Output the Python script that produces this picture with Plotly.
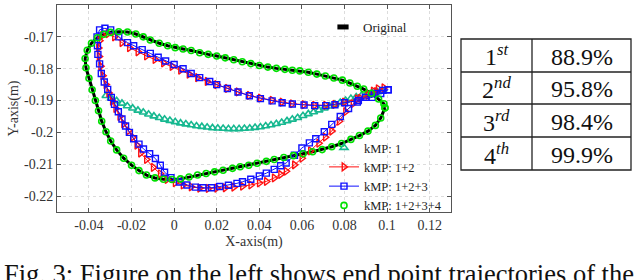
import plotly.graph_objects as go

# ---------------- data ----------------
orig_x = [0.099, 0.097, 0.0945, 0.091, 0.087, 0.083, 0.0786, 0.074, 0.0695, 0.065, 0.0605, 0.056, 0.0515, 0.047,
          0.0433, 0.039, 0.035, 0.031, 0.0274, 0.023, 0.019, 0.015, 0.011, 0.007, 0.003, -0.001, -0.005, -0.009,
          -0.013, -0.0165, -0.020, -0.0237, -0.027, -0.0298, -0.032, -0.034, -0.0355, -0.037, -0.0385, -0.040,
          -0.0414, -0.0418, -0.0408, -0.0388, -0.036, -0.033, -0.0298, -0.026, -0.0219, -0.018, -0.0145, -0.0112,
          -0.007, -0.003, 0.0005, 0.0042, 0.008, 0.012, 0.016, 0.020, 0.024, 0.028, 0.032, 0.036, 0.040, 0.044,
          0.048, 0.052, 0.0555, 0.059, 0.063, 0.067, 0.071, 0.075, 0.079, 0.0825, 0.086, 0.089, 0.0926, 0.096,
          0.0985, 0.099]
orig_y = [-0.1923, -0.1955, -0.1978, -0.1996, -0.2010, -0.2022, -0.2035, -0.2045, -0.2054, -0.2061, -0.2067,
          -0.2073, -0.2079, -0.2085, -0.2091, -0.2097, -0.2103, -0.2108, -0.2113, -0.2119, -0.2124, -0.2129,
          -0.2134, -0.2140, -0.2146, -0.2148, -0.2147, -0.2143, -0.2134, -0.2120, -0.2103, -0.2081, -0.2055,
          -0.2027, -0.1998, -0.1965, -0.1932, -0.1900, -0.1866, -0.1830, -0.1797, -0.1768, -0.1742, -0.1720,
          -0.1703, -0.1692, -0.1686, -0.1684, -0.1685, -0.1691, -0.1700, -0.1710, -0.1720, -0.1728, -0.1734,
          -0.1738, -0.1743, -0.1750, -0.1755, -0.1760, -0.1766, -0.1772, -0.1778, -0.1784, -0.1790, -0.1795,
          -0.1799, -0.1802, -0.1805, -0.1807, -0.1811, -0.1817, -0.1823, -0.1829, -0.1836, -0.1845, -0.1855,
          -0.1864, -0.1877, -0.1895, -0.1910, -0.1923]

kmp4_x = orig_x
kmp4_y = orig_y

kmp3_x = [0.1005, 0.097, 0.093, 0.0865, 0.080, 0.0755, 0.0712, 0.066, 0.061, 0.0555, 0.0507, 0.046, 0.0405,
          0.0353, 0.030, 0.025, 0.020, 0.0167, 0.012, 0.008, 0.0042, 0.000, -0.004, -0.0075, -0.0112, -0.015,
          -0.019, -0.0219, -0.026, -0.0298, -0.0325, -0.035, -0.0362, -0.036, -0.0358, -0.035, -0.0342, -0.0328,
          -0.0312, -0.0295, -0.028, -0.0262, -0.0245, -0.0228, -0.021, -0.019, -0.0165, -0.0144, -0.0115, -0.0088,
          -0.0065, -0.0045, -0.0015, 0.0025, 0.006, 0.010, 0.0135, 0.0175, 0.0214, 0.0255, 0.0295, 0.0321, 0.036,
          0.040, 0.0433, 0.047, 0.050, 0.0526, 0.0565, 0.060, 0.0635, 0.0665, 0.0705, 0.074, 0.078, 0.0819, 0.086,
          0.0898, 0.094, 0.098, 0.1005]
kmp3_y = [-0.1866, -0.1878, -0.1890, -0.1900, -0.1907, -0.1913, -0.1916, -0.1916, -0.1914, -0.1911, -0.1907,
          -0.1901, -0.1894, -0.1885, -0.1873, -0.1862, -0.1850, -0.1840, -0.1828, -0.1815, -0.1800, -0.1787,
          -0.1776, -0.1764, -0.1752, -0.1740, -0.1728, -0.1718, -0.1700, -0.1678, -0.1673, -0.1678, -0.1700,
          -0.1728, -0.1755, -0.1785, -0.1815, -0.1842, -0.1865, -0.1890, -0.1912, -0.1935, -0.1958, -0.1980,
          -0.2000, -0.2020, -0.2037, -0.2052, -0.2067, -0.2082, -0.2103, -0.2125, -0.2142, -0.2156, -0.2165,
          -0.2172, -0.2174, -0.2174, -0.2170, -0.2166, -0.2160, -0.2155, -0.2147, -0.2137, -0.2128, -0.2116,
          -0.2105, -0.2096, -0.2072, -0.2049, -0.2033, -0.2020, -0.1998, -0.1975, -0.1950, -0.1925, -0.1905,
          -0.1890, -0.1878, -0.1868, -0.1866]

kmp2_x = [0.0985, 0.095, 0.091, 0.086, 0.080, 0.0755, 0.0712, 0.066, 0.061, 0.0555, 0.0507, 0.046, 0.0405,
          0.0353, 0.030, 0.025, 0.020, 0.0155, 0.011, 0.007, 0.003, -0.001, -0.005, -0.009, -0.013, -0.017, -0.021,
          -0.0245, -0.028, -0.031, -0.0335, -0.035, -0.0355, -0.0352, -0.0345, -0.0335, -0.032, -0.0307, -0.029,
          -0.0274, -0.0255, -0.0237, -0.0215, -0.0195, -0.0175, -0.0158, -0.013, -0.0098, -0.0065, -0.0033,
          0.0005, 0.0042, 0.008, 0.012, 0.016, 0.020, 0.024, 0.028, 0.0321, 0.036, 0.040, 0.0433, 0.047, 0.050,
          0.0526, 0.0565, 0.060, 0.064, 0.0679, 0.071, 0.074, 0.0775, 0.0805, 0.084, 0.0875, 0.091, 0.0935, 0.0958]
kmp2_y = [-0.1860, -0.1872, -0.1884, -0.1895, -0.1905, -0.1912, -0.1915, -0.1915, -0.1913, -0.1910, -0.1905,
          -0.1899, -0.1892, -0.1884, -0.1873, -0.1862, -0.1850, -0.1840, -0.1828, -0.1817, -0.1805, -0.1793,
          -0.1782, -0.1771, -0.1760, -0.1747, -0.1734, -0.1718, -0.1700, -0.1690, -0.1695, -0.1712, -0.1735,
          -0.1762, -0.1792, -0.1822, -0.1850, -0.1876, -0.1902, -0.1925, -0.1950, -0.1973, -0.1995, -0.2015,
          -0.2040, -0.2065, -0.2085, -0.2110, -0.2130, -0.2148, -0.2158, -0.2165, -0.2171, -0.2175, -0.2176,
          -0.2175, -0.2174, -0.2172, -0.2169, -0.2165, -0.2159, -0.2154, -0.2143, -0.2132, -0.2122, -0.2102,
          -0.2081, -0.2058, -0.2034, -0.2015, -0.1996, -0.1965, -0.1935, -0.1910, -0.1893, -0.1880, -0.1870,
          -0.1863]

kmp1_x = [-0.032, -0.0295, -0.027, -0.0245, -0.022, -0.0195, -0.017, -0.0145, -0.012, -0.0095, -0.007, -0.0045,
          -0.002, 0.0005, 0.003, 0.0055, 0.008, 0.0105, 0.013, 0.0155, 0.018, 0.0205, 0.023, 0.0255, 0.028, 0.0305,
          0.033, 0.0355, 0.038, 0.0405, 0.043, 0.0455, 0.048, 0.0505, 0.053, 0.0555, 0.058, 0.0605, 0.063, 0.0655,
          0.068, 0.0705, 0.073, 0.0755, 0.078, 0.0805, 0.083, 0.0855, 0.088, 0.0905, 0.093, 0.0955, 0.098]
kmp1_y = [-0.1885, -0.1893, -0.1901, -0.1909, -0.1917, -0.1924, -0.1931, -0.1937, -0.1943, -0.1949, -0.1954,
          -0.1959, -0.1963, -0.1967, -0.1971, -0.1974, -0.1977, -0.1980, -0.1982, -0.1984, -0.1986, -0.1987,
          -0.1988, -0.1989, -0.1989, -0.1989, -0.1988, -0.1987, -0.1985, -0.1983, -0.1980, -0.1977, -0.1973,
          -0.1969, -0.1964, -0.1959, -0.1954, -0.1948, -0.1942, -0.1936, -0.1930, -0.1924, -0.1918, -0.1912,
          -0.1906, -0.1900, -0.1894, -0.1889, -0.1884, -0.1880, -0.1876, -0.1873, -0.1870]

x_ticks = [-0.04, -0.02, 0, 0.02, 0.04, 0.06, 0.08, 0.1, 0.12]
x_tick_labels = ["-0.04", "-0.02", "0", "0.02", "0.04", "0.06", "0.08", "0.1", "0.12"]
y_ticks = [-0.22, -0.21, -0.2, -0.19, -0.18, -0.17, -0.16]
y_tick_labels = ["-0.22", "-0.21", "-0.2", "-0.19", "-0.18", "-0.17", "-0.16"]

table_rank = ["1<sup><i>st</i></sup>", "2<sup><i>nd</i></sup>", "3<sup><i>rd</i></sup>", "4<sup><i>th</i></sup>"]
table_value = ["88.9%", "95.8%", "98.4%", "99.9%"]

caption = "Fig. 3: Figure on the left shows end point trajectories of the"

# ---------------- figure ----------------
SERIF = "Liberation Serif, Times New Roman, serif"
W, H = 640, 280
L, R, T, B = 57, 451, 5, 212  # plot area in pixels

def px(xp):
    return (xp - L) / (R - L)

def py(yp):
    return (B - yp) / (B - T)

fig = go.Figure()

fig.add_trace(go.Scatter(x=orig_x, y=orig_y, mode="lines", line=dict(color="black", width=3),
                         showlegend=False, hoverinfo="skip"))
fig.add_trace(go.Scatter(x=[None], y=[None], mode="markers", name="Original",
                         marker=dict(symbol="line-ew", size=8, line=dict(color="black", width=5)),
                         legend="legend"))

fig.add_trace(go.Scatter(x=kmp1_x, y=kmp1_y, mode="markers", name="kMP: 1",
                         marker=dict(symbol="triangle-up-open", size=7, color="#17b890",
                                     line=dict(width=1.6)), legend="legend2"))
fig.add_trace(go.Scatter(x=kmp2_x, y=kmp2_y, mode="lines+markers", name="kMP: 1+2",
                         line=dict(color="#ff1010", width=1),
                         marker=dict(symbol="triangle-right-open", size=7, color="#ff1010",
                                     line=dict(width=1.4)), legend="legend2"))
fig.add_trace(go.Scatter(x=kmp3_x, y=kmp3_y, mode="lines+markers", name="kMP: 1+2+3",
                         line=dict(color="#1010ff", width=1),
                         marker=dict(symbol="square-open", size=6, color="#1010ff",
                                     line=dict(width=1.4)), legend="legend2"))
fig.add_trace(go.Scatter(x=kmp4_x, y=kmp4_y, mode="markers", name="kMP: 1+2+3+4",
                         marker=dict(symbol="circle-open", size=6, color="#00e000",
                                     line=dict(width=1.6)), legend="legend2"))

axis_common = dict(showline=True, linecolor="#555", linewidth=1, mirror="ticks", ticks="inside",
                   ticklen=4, tickcolor="#555", showgrid=True, gridcolor="#dcdcdc", griddash="dot",
                   gridwidth=1, zeroline=False, tickfont=dict(family=SERIF, size=14, color="#333"))

fig.update_layout(
    width=W, height=H,
    margin=dict(l=L, r=W - R, t=T, b=H - B),
    paper_bgcolor="white", plot_bgcolor="white",
    xaxis=dict(range=[-0.055, 0.13], tickvals=x_ticks, ticktext=x_tick_labels,
               title=dict(text="X-axis(m)", font=dict(family=SERIF, size=14, color="#333"), standoff=4),
               **axis_common),
    yaxis=dict(range=[-0.225, -0.16], tickvals=y_ticks, ticktext=y_tick_labels,
               title=dict(text="Y-axis(m)", font=dict(family=SERIF, size=14, color="#333"), standoff=2),
               **axis_common),
    legend=dict(x=px(323), y=py(12), xanchor="left", yanchor="top", bgcolor="rgba(0,0,0,0)",
                font=dict(family=SERIF, size=13, color="#222"), itemwidth=30),
    legend2=dict(x=px(324), y=py(133), xanchor="left", yanchor="top", bgcolor="rgba(0,0,0,0)",
                 font=dict(family=SERIF, size=12.5, color="#222"), itemwidth=30, tracegroupgap=0),
)

# table drawn with shapes + text
tx0, tx1, txm = 461, 631, 532
row_edges = [39, 72, 104, 137, 170]
line_style = dict(color="#222", width=1.3)
fig.add_shape(type="rect", xref="paper", yref="paper", x0=px(tx0), x1=px(tx1),
              y0=py(row_edges[-1]), y1=py(row_edges[0]), line=line_style)
fig.add_shape(type="line", xref="paper", yref="paper", x0=px(txm), x1=px(txm),
              y0=py(row_edges[-1]), y1=py(row_edges[0]), line=line_style)
for ye in row_edges[1:-1]:
    fig.add_shape(type="line", xref="paper", yref="paper", x0=px(tx0), x1=px(tx1),
                  y0=py(ye), y1=py(ye), line=line_style)
for i, (rk, val) in enumerate(zip(table_rank, table_value)):
    yc = (row_edges[i] + row_edges[i + 1]) / 2
    fig.add_annotation(x=px((tx0 + txm) / 2), y=py(yc), xref="paper", yref="paper", text=rk,
                       xanchor="center", yanchor="middle", showarrow=False,
                       font=dict(family=SERIF, size=24, color="#111"))
    fig.add_annotation(x=px((txm + tx1) / 2), y=py(yc + 1), xref="paper", yref="paper", text=val,
                       xanchor="center", yanchor="middle", showarrow=False,
                       font=dict(family=SERIF, size=24, color="#111"))

fig.add_annotation(x=px(2), y=py(257), xref="paper", yref="paper", xanchor="left", yanchor="top",
                   text=caption, showarrow=False, font=dict(family=SERIF, size=26.5, color="#111"))

fig.write_html("out.html", post_script="document.body.style.margin='0';",
               config={"displayModeBar": False})
